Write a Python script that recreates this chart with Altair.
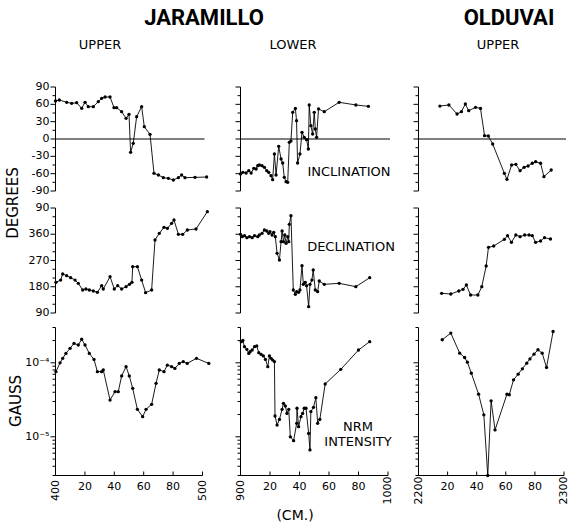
import altair as alt
import pandas as pd

FONT = "DejaVu Sans"

# ---------------- data (depth in cm, value) ----------------
# Jaramillo, upper transition (400-500 cm)
ju_inc_depth = [400, 402.6, 407.6, 411, 414.4, 417.8, 420.1, 422.3, 425.7, 429.1, 431.4, 433.7,
                437.1, 439.8, 441.6, 445, 448, 450, 451.1, 452.9, 455.2, 458.6, 460.4, 464.3,
                467, 470, 473.4, 476.8, 480.2, 483.6, 485.8, 488.1, 494.9, 502.8]
ju_inc = [65.8, 67.5, 63.5, 61.7, 62.9, 53.1, 63.5, 56, 56, 64.6, 70.4, 72.7,
          72.7, 54.2, 54.2, 47.3, 35.8, 42.7, -23.1, -7.5, 38.7, 56, 21.3, 8.1,
          -59.4, -62.3, -66.9, -68.1, -71, -66.9, -62.3, -66.9, -66.4, -65.8]

ju_dec_depth = [400.3, 403.5, 404.9, 407.6, 410.3, 413.3, 415.5, 418.5, 420.7, 423, 425.7, 428.5,
                431.4, 432.5, 437.1, 440, 442.3, 445, 448, 450.3, 452.0, 452.5, 455.7, 458.6,
                461.3, 465.4, 467.7, 470.6, 473.8, 476.1, 479, 480.6, 483.6, 486.5, 489.7, 495.6, 503.3]
ju_dec = [195.1, 203, 223.7, 218, 211.1, 203, 191.7, 168.8, 172.3, 168.8, 165.4, 160.8,
          183.7, 172.3, 214.5, 172.3, 183.7, 172.3, 180.3, 188.3, 195.1, 248.8, 248.8, 203,
          159.7, 168.8, 340.3, 363.1, 383.7, 380.3, 397.4, 408.9, 359.7, 359.7, 374.6, 378, 437.4]

ju_int_depth = [400.3, 403.1, 404.9, 407.1, 409.9, 412.6, 415.5, 417.8, 420.1, 423, 426.2, 428.5,
                431.4, 432.5, 437.1, 440.5, 442.7, 445, 448, 450.2, 452.5, 455.7, 459.3, 461.6,
                465.4, 468.4, 470.6, 473.8, 476.1, 479, 481.2, 484.2, 486.9, 489.6, 495.9, 504.3]
ju_int = [7.6e-5, 1.0e-4, 1.15e-4, 1.34e-4, 1.57e-4, 1.83e-4, 1.74e-4, 2.08e-4, 1.74e-4, 1.34e-4,
          1.11e-4, 7.6e-5, 7.6e-5, 8.0e-5, 3.14e-5, 4.07e-5, 4.07e-5, 6.64e-5, 8.87e-5, 6.64e-5,
          4.52e-5, 2.35e-5, 1.87e-5, 2.35e-5, 2.75e-5, 5.28e-5, 8.0e-5, 7.6e-5, 9.3e-5, 8.87e-5,
          8.4e-5, 9.8e-5, 1.04e-4, 9.8e-5, 1.15e-4, 9.8e-5]

# Jaramillo, lower transition (900-1000 cm)
jl_inc_depth = [900, 901.6, 903.8, 905.6, 907.2, 909, 910.6, 911.7, 912.8, 914.6, 916.2, 917.8,
                919.1, 920.7, 921.8, 923, 924.1, 925.9, 927.5, 928.6, 929.7, 930.9, 932, 933.1,
                934.2, 935.4, 937.2, 938, 938.7, 940.3, 941.7, 943.2, 944.8, 946, 946.6, 947.7,
                948.9, 950, 950.7, 951.6, 952.9, 956.8, 966.9, 978.2, 986.7]
jl_inc = [-60.6, -57.7, -58.9, -54.8, -58.9, -50.8, -51.9, -46.2, -45, -46.2, -49, -54.8,
          -57.7, -63.5, -70.4, -26, -62.3, -12.7, -34.6, -41.5, -66.4, -73.9, -75, -5.8,
          -3.5, 46.2, 53, 31.7, -41.5, -26, 11.5, 2.9, -1.2, -17.3, 58.9, 23,
          8.7, 46.2, 17.3, 2.9, 52, 47.3, 63.5, 58.9, 56.5]

jl_dec_depth = [900, 901.1, 902.7, 904.3, 906.1, 907.9, 909.5, 911.7, 912.8, 914.6, 916.2, 917.8,
                919.1, 920, 921.4, 922.5, 923.6, 924.8, 926.4, 927.5, 928.2, 929.1, 930, 930.9,
                932, 932.7, 933.1, 934.2, 935.8, 937.2, 938.1, 939.4, 940.3, 941.7, 942.6, 943.9,
                944.8, 946.2, 947.1, 948.4, 949.3, 950.7, 952.3, 953.4, 956.8, 966.9, 978.2, 987.6]
jl_dec = [359.7, 351.7, 355.1, 348.3, 351.7, 348.3, 355.1, 351.7, 357.4, 363.1, 374.6, 371.1,
          363.1, 368.8, 357.4, 366.6, 351.7, 294.5, 271.7, 334.6, 371.1, 334.6, 357.4, 328.8,
          351.7, 334.6, 394, 423.7, 168.8, 154, 163.1, 160.8, 168.8, 252.3, 188.3, 195.1,
          183.7, 111.7, 188.3, 203, 237.4, 168.8, 163.1, 199.7, 188.3, 191.7, 180.3, 211.1]

jl_int_depth = [900.5, 901.6, 902.7, 904.3, 905.6, 906.5, 907.9, 909.5, 911, 912.4, 914, 915.5,
                916.9, 918.5, 919.6, 920.7, 921.8, 923, 923.4, 924.8, 926.4, 928.2, 929.1, 930.4,
                931.5, 932.7, 933.8, 936, 938.1, 938.3, 939.4, 941, 942.1, 943.2, 944.4, 946.2,
                947.1, 947.7, 949.5, 951.1, 952.3, 953.8, 957.4, 968, 980, 987.6]
jl_int = [1.93e-4, 2.0e-4, 1.65e-4, 1.52e-4, 1.34e-4, 1.41e-4, 1.49e-4, 1.65e-4, 1.69e-4, 1.37e-4,
          1.30e-4, 1.24e-4, 1.11e-4, 8.87e-5, 1.24e-4, 1.15e-4, 1.09e-4, 1.04e-4, 1.91e-5, 1.44e-5,
          1.72e-5, 2.35e-5, 2.83e-5, 2.61e-5, 2.07e-5, 2.35e-5, 1.0e-5, 8.87e-6, 1.52e-5, 2.43e-5,
          1.37e-5, 1.87e-5, 2.07e-5, 2.43e-5, 2.43e-5, 1.11e-5, 6.64e-6, 2.19e-5, 2.50e-5, 3.38e-5,
          1.52e-5, 1.72e-5, 5.17e-5, 8.16e-5, 1.49e-4, 1.93e-4]

# Olduvai, upper transition (2200-2300 cm)
ou_inc_depth = [2214.7, 2220.9, 2226.5, 2229.5, 2232.2, 2234.5, 2239.2, 2242.6, 2245.4, 2248, 2251,
                2259, 2260.8, 2264, 2266.9, 2269.8, 2272.6, 2275.3, 2278.2, 2280.5, 2283.9, 2286.2, 2291.2]
ou_inc = [57, 58.9, 43.3, 47.3, 60.6, 49, 54.8, 53, 5.8, 5.2, -8.7,
          -59.4, -69.8, -45, -43.9, -54.8, -49, -46.7, -42, -39.2, -42, -65.2, -53.7]

ou_dec_depth = [2215.9, 2222.2, 2227.7, 2230.6, 2232.9, 2235.8, 2240.8, 2243.5, 2246.5, 2248.1, 2251.7,
                2259, 2261.2, 2263.9, 2266.9, 2269.8, 2273, 2276, 2278.2, 2280.5, 2283.9, 2286.6, 2290.7]
ou_dec = [157.4, 155.1, 165.4, 171.1, 186, 151.7, 151.7, 180.3, 251.1, 315.1, 319.7,
          342.6, 355.1, 332.3, 357.4, 351.7, 357.4, 357.4, 355.1, 332.3, 336.8, 348.3, 343.7]

ou_int_depth = [2216.3, 2222.2, 2228.3, 2231.7, 2233.6, 2236.3, 2241.3, 2244.9, 2247.6, 2249.9, 2252.6,
                2260.8, 2262.4, 2265.3, 2268.5, 2271.4, 2274.4, 2276.6, 2279.4, 2282.1, 2285, 2288, 2292.5]
ou_int = [2.05e-4, 2.52e-4, 1.35e-4, 1.18e-4, 1.02e-4, 7.25e-5, 3.77e-5, 1.98e-5, 3.0e-6, 3.06e-5, 1.24e-5,
          3.77e-5, 3.70e-5, 5.89e-5, 7.03e-5, 8.3e-5, 9.9e-5, 1.13e-4, 1.31e-4, 1.50e-4, 1.35e-4, 8.65e-5, 2.65e-4]

# ---------------- axes definitions ----------------
col_domains = [[400, 500], [900, 1000], [2200, 2300]]
row_domains = [[-90, 90], [90, 450], [3e-6, 3e-4]]
x_ticks = [[400, 420, 440, 460, 480, 500], [900, 920, 940, 960, 980, 1000], [2200, 2220, 2240, 2260, 2280, 2300]]
x_tick_labels = [["400", "20", "40", "60", "80", "500"],
                 ["900", "20", "40", "60", "80", "1000"],
                 ["2200", "20", "40", "60", "80", "2300"]]
inc_ticks = [-90, -75, -60, -45, -30, -15, 0, 15, 30, 45, 60, 75, 90]
inc_label_values = [90, 60, 30, 0, -30, -60, -90]
inc_labels = ["90", "60", "30", "0", "-30", "-60", "-90"]
dec_ticks = [90, 120, 150, 180, 210, 240, 270, 300, 330, 360, 390, 420, 450]
dec_label_values = [450, 360, 270, 180, 90]
dec_labels = ["90", "360", "270", "180", "90"]
int_major = [1e-5, 1e-4]
int_minor = [3e-6, 4e-6, 5e-6, 6e-6, 7e-6, 8e-6, 9e-6, 2e-5, 3e-5, 4e-5, 5e-5, 6e-5, 7e-5, 8e-5, 9e-5, 2e-4, 3e-4]
int_labels = ["10\u207b\u2075", "10\u207b\u2074"]

# layout (pixel ranges of each panel's scales)
col_ranges = [[55.5, 202.5], [240.5, 388], [418.5, 564]]
row_ranges = [[191, 87], [313, 208], [475.5, 327.5]]

series = {
    (0, 0): (ju_inc_depth, ju_inc), (0, 1): (ju_dec_depth, ju_dec), (0, 2): (ju_int_depth, ju_int),
    (1, 0): (jl_inc_depth, jl_inc), (1, 1): (jl_dec_depth, jl_dec), (1, 2): (jl_int_depth, jl_int),
    (2, 0): (ou_inc_depth, ou_inc), (2, 1): (ou_dec_depth, ou_dec), (2, 2): (ou_int_depth, ou_int),
}


def panel(ci, ri):
    xd, yd = col_domains[ci], row_domains[ri]
    X = alt.Scale(domain=xd, range=col_ranges[ci], nice=False, zero=False)
    if ri == 2:
        Y = alt.Scale(type="log", domain=yd, range=row_ranges[ri], nice=False)
    else:
        Y = alt.Scale(domain=yd, range=row_ranges[ri], nice=False, zero=False)

    def ex(f="x"):
        return alt.X(f + ":Q", scale=X, axis=None)

    def ey(f="y"):
        return alt.Y(f + ":Q", scale=Y, axis=None)

    depth, vals = series[(ci, ri)]
    df = pd.DataFrame({"x": depth, "y": vals, "i": list(range(len(depth)))})
    layers = [
        alt.Chart(df).mark_line(color="black", strokeWidth=0.9).encode(x=ex(), y=ey(), order="i:Q"),
        alt.Chart(df).mark_circle(color="black", size=11, opacity=1).encode(x=ex(), y=ey()),
    ]
    # vertical axis line
    adf = pd.DataFrame({"x": [xd[0]], "y": [yd[0]], "y2": [yd[1]]})
    layers.append(alt.Chart(adf).mark_rule(color="black", strokeWidth=1)
                  .encode(x=ex(), y=ey(), y2="y2:Q"))
    # y ticks
    if ri == 0:
        major = [v for v in inc_ticks if v % 30 == 0]
        minor = [v for v in inc_ticks if v % 30 != 0]
    elif ri == 1:
        major = [v for v in dec_ticks if v % 90 == 0]
        minor = [v for v in dec_ticks if v % 90 != 0]
    else:
        major, minor = int_major, int_minor
    for vals_t, ln in ((major, -5), (minor, -3)):
        tdf = pd.DataFrame({"x": [xd[0]] * len(vals_t), "x2": [xd[0]] * len(vals_t), "y": vals_t})
        layers.append(alt.Chart(tdf).mark_rule(color="black", strokeWidth=1, x2Offset=ln)
                      .encode(x=ex(), x2="x2:Q", y=ey()))
    # zero line for inclination
    if ri == 0:
        zdf = pd.DataFrame({"x": [xd[0]], "x2": [xd[1]], "y": [0]})
        layers.append(alt.Chart(zdf).mark_rule(color="black", strokeWidth=1, x2Offset=2)
                      .encode(x=ex(), x2="x2:Q", y=ey()))
    # y labels on first column
    if ci == 0:
        if ri == 0:
            lv, lt = inc_label_values, inc_labels
        elif ri == 1:
            lv, lt = dec_label_values, dec_labels
        else:
            lv, lt = int_major, int_labels
        ldf = pd.DataFrame({"x": [xd[0]] * len(lv), "y": lv, "t": lt})
        layers.append(alt.Chart(ldf).mark_text(align="right", baseline="middle", dx=-6,
                                               fontSize=11, font=FONT, color="black")
                      .encode(x=ex(), y=ey(), text="t:N"))
    # bottom axis
    if ri == 2:
        bdf = pd.DataFrame({"x": [xd[0]], "x2": [xd[1]], "y": [yd[0]]})
        layers.append(alt.Chart(bdf).mark_rule(color="black", strokeWidth=1)
                      .encode(x=ex(), x2="x2:Q", y=ey()))
        tv = x_ticks[ci]
        tdf = pd.DataFrame({"x": tv, "y": [yd[0]] * len(tv), "y2": [yd[0]] * len(tv)})
        layers.append(alt.Chart(tdf).mark_rule(color="black", strokeWidth=1, y2Offset=-4)
                      .encode(x=ex(), y=ey(), y2="y2:Q"))
        labs = x_tick_labels[ci]
        mid = pd.DataFrame({"x": tv[1:-1], "y": [yd[0]] * 4, "t": labs[1:-1]})
        layers.append(alt.Chart(mid).mark_text(align="center", baseline="middle", yOffset=11,
                                               fontSize=11, font=FONT, color="black")
                      .encode(x=ex(), y=ey(), text="t:N"))
        ends = pd.DataFrame({"x": [tv[0], tv[-1]], "y": [yd[0]] * 2, "t": [labs[0], labs[-1]]})
        layers.append(alt.Chart(ends).mark_text(align="center", baseline="middle", angle=270,
                                                yOffset=15, fontSize=11, font=FONT, color="black")
                      .encode(x=ex(), y=ey(), text="t:N"))
    return alt.layer(*layers)


def label(text, x, y, size, angle=0, weight="normal", font=FONT, baseline="alphabetic"):
    return (alt.Chart(pd.DataFrame({"t": [text]}))
            .mark_text(fontSize=size, angle=angle, fontWeight=weight, font=font, color="black",
                       align="center", baseline=baseline)
            .encode(x=alt.value(x), y=alt.value(y), text="t:N"))


panels = [panel(ci, ri) for ri in range(3) for ci in range(3)]
texts = [
    label("JARAMILLO", 204, 25, 22, weight="bold", font="Roboto"),
    label("OLDUVAI", 509, 25, 22, weight="bold", font="Roboto"),
    label("UPPER", 100, 49, 13),
    label("LOWER", 293, 49, 13),
    label("UPPER", 498, 49, 13),
    label("DEGREES", 13, 203, 15, angle=270, baseline="middle"),
    label("GAUSS", 16, 401, 15, angle=270, baseline="middle"),
    label("(CM.)", 295, 516, 14, baseline="middle"),
    label("INCLINATION", 349, 172, 13, baseline="middle"),
    label("DECLINATION", 351, 247, 13, baseline="middle"),
    label("NRM", 358, 427, 13, baseline="middle"),
    label("INTENSITY", 358, 442, 13, baseline="middle"),
]

chart = (alt.layer(*panels, *texts)
         .resolve_scale(x="independent", y="independent")
         .properties(width=570, height=525, autosize=alt.AutoSizeParams(type="none"), padding=0,
                     background="white")
         .configure_view(stroke=None))

chart.save("out.html", embed_options={"renderer": "svg", "actions": False})
